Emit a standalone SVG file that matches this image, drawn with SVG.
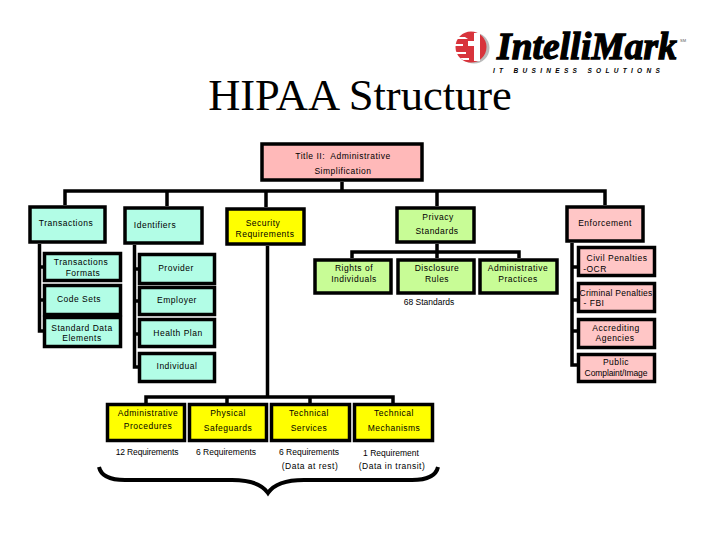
<svg xmlns="http://www.w3.org/2000/svg" width="720" height="540" viewBox="0 0 720 540">
<style>
rect{stroke:#000;stroke-width:3.5}
.a{fill:#b2fde6}.g{fill:#c8fc96}.y{fill:#ffff00}.p{fill:#ffb9b9}.q{fill:#ffc6c6}
text{font-family:"Liberation Sans",Arial,sans-serif;font-size:8.5px;letter-spacing:.5px;text-anchor:middle;fill:#000}
.c path{fill:none;stroke:#000;stroke-width:3.5}
.t{font-family:"Liberation Serif","Times New Roman",serif;font-size:44.500px;letter-spacing:0}
.n{letter-spacing:0}
</style>
<rect x="0" y="0" width="720" height="540" style="fill:#fff;stroke:none"/>
<text class="t" x="360" y="110">HIPAA Structure</text>
<g id="logo">
<circle cx="474" cy="48" r="15.500" fill="#bbb"/>
<circle cx="471" cy="47" r="15.500" fill="#d8343c"/>
<path d="M455 37h10l3 2h-13zM454 44h9v2h-9zM455 52h11v2h-10zM460 58h9v2h-6z" fill="#fff"/>
<path d="M474 33h6v28h-6zM468 41h8v5h-8z" fill="#fff"/>
<text x="587" y="59" style="font-family:'Liberation Serif',serif;font-weight:bold;font-style:italic;font-size:37px;letter-spacing:.2px;stroke:#000;stroke-width:1.300" textLength="180" lengthAdjust="spacingAndGlyphs">IntelliMark</text>
<text x="578" y="73" style="font-weight:bold;font-style:italic;font-size:6.500px;letter-spacing:3.200px" textLength="170">IT BUSINESS SOLUTIONS</text>
<text x="683" y="42" style="font-size:4px;letter-spacing:0;fill:#555">SM</text>
</g>
<g id="connectors" class="c">
<path d="M342 182V191M65 205V191H605V205M167 191V206M266 191V207M437 191V206"/>
<path d="M39.500 244V331H44M39.500 267H44M39.500 300H44"/>
<path d="M134.500 245V367H139M134.500 269H139M134.500 301H139M134.500 334H139"/>
<path d="M572 243V365H578M572 267H578M572 300H578M572 331H578"/>
<path d="M437 244V258M352 258V252H519V258"/>
<path d="M267.500 246V397M146 403V397H393V403M227 397V403M310 397V403"/>
</g>
<g id="title"><rect class="p" x="262" y="144" width="160" height="36"/><text x="343" y="159" style="white-space:pre">Title II:  Administrative</text><text x="343" y="174">Simplification</text></g>
<g id="transactions"><rect class="a" x="30" y="207" width="75" height="35"/><text x="66" y="226">Transactions</text></g>
<g id="identifiers"><rect class="a" x="125" y="208" width="77" height="35"/><text x="155" y="228">Identifiers</text></g>
<g id="security"><rect class="y" x="227" y="209" width="77" height="35"/><text x="263" y="226">Security</text><text x="265" y="237">Requirements</text></g>
<g id="privacy"><rect class="g" x="397" y="208" width="77" height="34"/><text x="438" y="220">Privacy</text><text x="437" y="234">Standards</text></g>
<g id="enforcement"><rect class="q" x="567" y="207" width="76" height="34"/><text x="605" y="226">Enforcement</text></g>
<g id="transactions-formats"><rect class="a" x="44.500" y="253.500" width="76" height="27"/><text x="81" y="265">Transactions</text><text x="83" y="276">Formats</text></g>
<g id="code-sets"><rect class="a" x="44.500" y="285.500" width="76" height="29"/><text x="79" y="302">Code Sets</text></g>
<g id="standard-data"><rect class="a" x="44.500" y="317.500" width="76" height="29"/><text x="82" y="331">Standard Data</text><text x="82" y="341">Elements</text></g>
<g id="provider"><rect class="a" x="139.500" y="254.500" width="75" height="29"/><text x="176" y="271">Provider</text></g>
<g id="employer"><rect class="a" x="139.500" y="287.500" width="75" height="27"/><text x="177" y="303">Employer</text></g>
<g id="health-plan"><rect class="a" x="139.500" y="319.500" width="75" height="27"/><text x="178" y="336">Health Plan</text></g>
<g id="individual"><rect class="a" x="139.500" y="353.500" width="75" height="28"/><text x="177" y="369">Individual</text></g>
<g id="rights"><rect class="g" x="315" y="260" width="76" height="33"/><text x="354" y="271">Rights of</text><text x="354" y="282">Individuals</text></g>
<g id="disclosure"><rect class="g" x="398" y="260" width="76" height="33"/><text x="437" y="271">Disclosure</text><text x="437" y="282">Rules</text></g>
<g id="administrative-practices"><rect class="g" x="480" y="260" width="77" height="33"/><text x="518" y="271">Administrative</text><text x="518" y="282">Practices</text></g>
<text class="n" x="429" y="305">68 Standards</text>
<g id="civil"><rect class="q" x="578.500" y="247.500" width="76" height="28"/><text x="617" y="261">Civil Penalties</text><text x="595" y="272">-OCR</text></g>
<g id="criminal"><rect class="q" x="578.500" y="283.500" width="76" height="28"/><text x="616" y="296" style="letter-spacing:.25px">Criminal Penalties</text><text x="594" y="306">- FBI</text></g>
<g id="accrediting"><rect class="q" x="578.500" y="319.500" width="76" height="28"/><text x="616" y="331">Accrediting</text><text x="615" y="341">Agencies</text></g>
<g id="public"><rect class="q" x="578.500" y="354.500" width="76" height="27"/><text x="616" y="365">Public</text><text x="616" y="376" style="letter-spacing:-.1px">Complaint/Image</text></g>
<g id="admin-procedures"><rect class="y" x="107.500" y="404.500" width="77" height="36"/><text x="148" y="416">Administrative</text><text x="148" y="429">Procedures</text></g>
<g id="physical"><rect class="y" x="189.500" y="404.500" width="77" height="36"/><text x="228" y="416">Physical</text><text x="228" y="431">Safeguards</text></g>
<g id="tech-services"><rect class="y" x="271.500" y="404.500" width="78" height="36"/><text x="309" y="416">Technical</text><text x="309" y="431">Services</text></g>
<g id="tech-mechanisms"><rect class="y" x="354.500" y="404.500" width="78" height="36"/><text x="394" y="416">Technical</text><text x="394" y="431">Mechanisms</text></g>
<text x="147" y="455" style="letter-spacing:-.15px">12 Requirements</text>
<text class="n" x="226" y="455">6 Requirements</text>
<text class="n" x="309" y="455">6 Requirements</text>
<text x="310" y="469">(Data at rest)</text>
<text class="n" x="391" y="456">1 Requirement</text>
<text x="392" y="469">(Data in transit)</text>
<g id="brace" class="c"><path d="M99 467C101 476 110 480 125 480H232C250 480 262 484 268 493C274 484 286 480 304 480H412C427 480 436 476 438 467" style="stroke-width:4"/></g>
</svg>
